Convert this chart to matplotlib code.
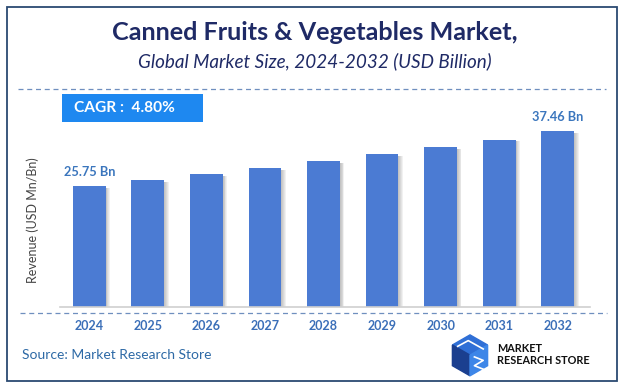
import matplotlib
matplotlib.use("Agg")
import matplotlib.pyplot as plt
from matplotlib.patches import Rectangle, Polygon
from matplotlib.lines import Line2D

# data
years = ["2024", "2025", "2026", "2027", "2028", "2029", "2030", "2031", "2032"]
revenue = [25.75, 27.0, 28.3, 29.6, 31.0, 32.5, 34.0, 35.6, 37.46]
shown_labels = {0: "25.75 Bn", 8: "37.46 Bn"}
cagr_text = "CAGR :  4.80%"

W, H = 625, 388
plt.rcParams['font.family'] = ['Lato', 'DejaVu Sans']

fig = plt.figure(figsize=(W / 100, H / 100), dpi=100)
fig.patch.set_facecolor("white")


def fx(px):
    return px / W


def fy(py):
    return 1 - py / H


# outer frame
fig.add_artist(Rectangle((fx(7), fy(381)), fx(610), (381 - 7) / H, transform=fig.transFigure,
                         fill=False, edgecolor="#2b4a72", linewidth=1.3))

# titles
fig.text(fx(315), fy(33), "Canned Fruits & Vegetables Market,", ha="center", va="center",
         fontsize=18.2, fontweight="bold", color="#1f2a66")
fig.text(fx(315), fy(61), "Global Market Size, 2024-2032 (USD Billion)", ha="center", va="center",
         fontsize=13.6, fontstyle="italic", color="#1f2a66")

# dashed separators
fig.add_artist(Line2D([fx(18), fx(606)], [fy(89), fy(89)], transform=fig.transFigure,
                      color="#6f8fbf", linewidth=0.9, linestyle=(0, (4, 3))))
fig.add_artist(Line2D([fx(20), fx(607)], [fy(313), fy(313)], transform=fig.transFigure,
                      color="#6f8fbf", linewidth=0.9, linestyle=(0, (4, 3))))

# CAGR badge
fig.add_artist(Rectangle((fx(62), fy(122)), fx(141), 28 / H, transform=fig.transFigure,
                         facecolor="#1e88f0", edgecolor="none"))
fig.text(fx(74), fy(108), cagr_text, ha="left", va="center", fontsize=11.2,
         fontweight="bold", color="white")

# bar axes
ax = fig.add_axes([fx(60), fy(307), fx(530), (307 - 100) / H])
x = list(range(len(years)))
ax.set_xlim(-0.5, 8.55)
ax.set_ylim(0, 44)

# soft shadows to the right of each bar
for k in range(5):
    ax.bar([i + 0.015 * (k + 1) for i in x], [v - 0.4 for v in revenue], width=0.56,
           color="#666666", alpha=0.09, edgecolor="none", zorder=1)
ax.bar(x, revenue, width=0.56, color="#4b7bd3", edgecolor="none", zorder=2)

for i, lab in shown_labels.items():
    ax.text(i, revenue[i] + 1.6, lab, ha="center", va="bottom", fontsize=9.2,
            fontweight="bold", color="#3b76bd")

for s in ["top", "right", "left"]:
    ax.spines[s].set_visible(False)
ax.spines["bottom"].set_color("#d0d0d0")
ax.spines["bottom"].set_linewidth(1.2)
ax.set_yticks([])
ax.set_xticks(x)
ax.set_xticklabels(years, fontsize=9, fontweight="bold", color="#3b6fb8")
ax.tick_params(axis="x", length=0, pad=9)
ax.set_ylabel("Revenue (USD Mn/Bn)", fontsize=9, color="#444444")
ax.yaxis.set_label_coords(-0.04, 0.42)

# source
fig.text(fx(22), fy(355), "Source: Market Research Store", ha="left", va="center",
         fontsize=10, color="#2e6aa6")

# logo mark
logo = fig.add_axes([fx(448), fy(378), fx(44), 44 / H])
logo.set_xlim(0, 10)
logo.set_ylim(0, 10)
logo.axis("off")
logo.add_patch(Polygon([(1, 7.5), (5, 9.8), (9, 7.5), (5, 5.2)], closed=True, color="#2f6fd6"))
logo.add_patch(Polygon([(1, 7.5), (5, 5.2), (5, 0.5), (1, 2.8)], closed=True, color="#1b3f8f"))
logo.add_patch(Polygon([(5, 5.2), (9, 7.5), (9, 2.8), (5, 0.5)], closed=True, color="#3d86e8"))
logo.plot([2.2, 4.6, 8], [7.2, 8.5, 6.6], color="white", linewidth=1.2)
logo.plot([6, 8, 6, 8], [4.8, 4, 2.8, 2], color="white", linewidth=1.2)
fig.text(fx(497), fy(349), "MARKET", ha="left", va="center", fontsize=7.8,
         fontweight="bold", color="#111111")
fig.text(fx(497), fy(361), "RESEARCH STORE", ha="left", va="center", fontsize=7.8,
         fontweight="bold", color="#111111")

fig.savefig("out.png", dpi=100)
